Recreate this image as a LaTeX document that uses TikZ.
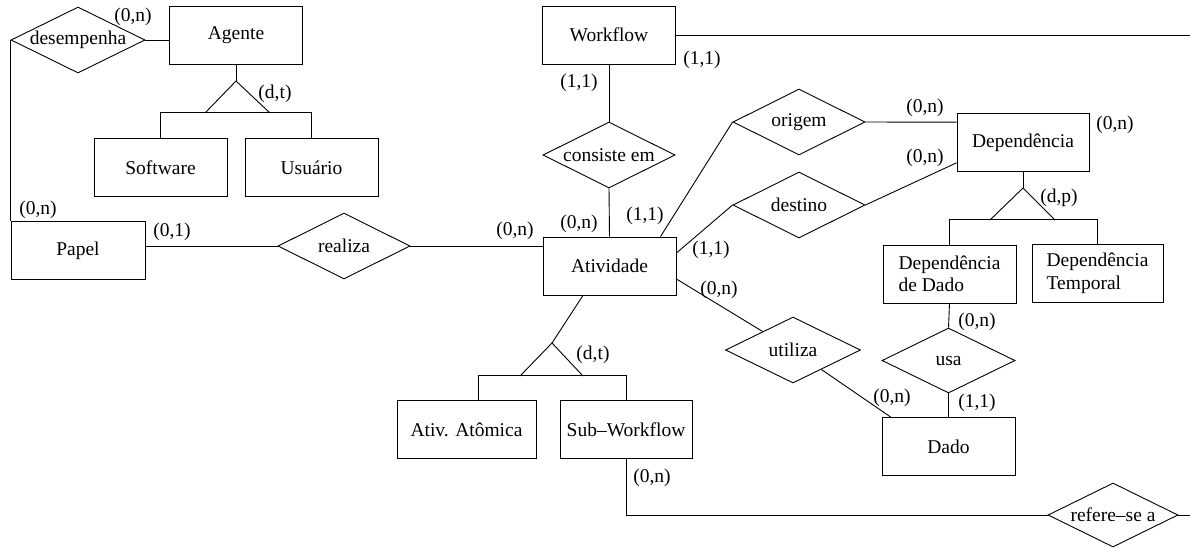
\documentclass[tikz,border=0pt]{standalone}
\usepackage{fontspec}
\setmainfont{Liberation Serif}
\usetikzlibrary{shapes.geometric}

\begin{document}
\begin{tikzpicture}[x=1pt, y=-1pt, line width=0.9pt,
  font=\fontsize{19.5}{22.5}\selectfont,
  entity/.style={draw, rectangle, minimum width=133pt, minimum height=58pt, inner sep=0pt},
  rel/.style={draw, diamond, aspect=2, minimum width=132pt, minimum height=66pt, inner sep=0pt},
  card/.style={inner sep=0pt}]

\useasboundingbox (0,0) rectangle (1190,547);

% entidades
\node[entity] (agente) at (236,35) {Agente};
\node[entity] (software) at (160.5,167.5) {Software};
\node[entity] (usuario) at (311.5,167.5) {Usuário};
\node[entity, minimum width=134pt] (papel) at (78,250.5) {Papel};
\node[entity] (workflow) at (609,35) {Workflow};
\node[entity] (atividade) at (609.5,266) {Atividade};
\node[entity, minimum width=139pt] (atomica) at (466.5,429.5) {Ativ. Atômica};
\node[entity, minimum width=132pt] (subwf) at (626,429.5) {Sub–Workflow};
\node[entity, minimum width=132pt] (dependencia) at (1023,142.5) {Dependência};
\node[entity, align=left] (depdado) at (949.5,274) {Dependência\\de Dado};
\node[entity, align=left, minimum width=131pt] (deptemp) at (1097.5,273.5) {Dependência\\Temporal};
\node[entity] (dado) at (948.5,446.5) {Dado};

% relacionamentos
\node[rel, minimum width=134pt] (desempenha) at (78,40) {desempenha};
\node[rel] (realiza) at (344,246) {realiza};
\node[rel] (consiste) at (609,155) {consiste em};
\node[rel] (origem) at (799,122) {origem};
\node[rel] (destino) at (799,205) {destino};
\node[rel, minimum width=135pt] (utiliza) at (793,350) {utiliza};
\node[rel, minimum width=133pt, minimum height=65pt] (usa) at (948.5,360.5) {usa};
\node[rel, minimum width=130pt, minimum height=64pt] (refere) at (1113,515) {refere–se a};

\coordinate (wfend) at (1190,35);
\coordinate (refend) at (1190,515);

% ligacoes
\draw (desempenha.east) -- (desempenha.east -| agente.west);
\draw (desempenha.west) -- (papel.north west);
\draw (realiza.west -| papel.east) -- (realiza.west);
\draw (realiza.east) -- (realiza.east -| atividade.west);
\draw (workflow.east) -- (wfend);
\draw (workflow.south) -- (consiste.north);
\draw (consiste.south) -- (atividade.north);
\draw (origem.west) -- (atividade.30);
\draw (origem.east) -- (dependencia.163);
\draw (destino.west) -- (atividade.11);
\draw (destino.east) -- (dependencia.197);
\draw (atividade.-11) -- (utiliza);
\draw (utiliza) -- (dado.153);
\draw (depdado.south) -- (usa.north);
\draw (usa.south) -- (dado.north);
\draw (subwf.south) |- (refere.west);
\draw (refere.east) -- (refend);

% especializacoes
\draw (agente.south) -- (236,81);
\draw (205,113) -- (236,81) -- (270,113);
\draw (software.north) -- ++(0,-26) -| (usuario.north);

\draw (atividade.-132) -- (552,343);
\draw (520,376) -- (552,343) -- (583,376);
\draw ([xshift=11.5pt]atomica.north) -- ++(0,-25) -| (subwf.north);

\draw (dependencia.south) -- (1023,188);
\draw (990,220) -- (1023,188) -- (1055,220);
\draw (depdado.north) -- ++(0,-25) -| (deptemp.north);

% cardinalidades
\node[card] (c1) at (133,17) {(0,n)};
\node[card] (c2) at (275,94) {(d,t)};
\node[card] (c3) at (38,210) {(0,n)};
\node[card] (c4) at (172,232) {(0,1)};
\node[card] (c5) at (515,231) {(0,n)};
\node[card] (c6) at (579,224) {(0,n)};
\node[card] (c7) at (645,216) {(1,1)};
\node[card] (c8) at (702,60) {(1,1)};
\node[card] (c9) at (579,83) {(1,1)};
\node[card] (c10) at (925,108) {(0,n)};
\node[card] (c11) at (1115,125) {(0,n)};
\node[card] (c12) at (925,158) {(0,n)};
\node[card] (c13) at (711,250) {(1,1)};
\node[card] (c14) at (719,290) {(0,n)};
\node[card] (c15) at (892,398) {(0,n)};
\node[card] (c16) at (977,403) {(1,1)};
\node[card] (c17) at (977,322) {(0,n)};
\node[card] (c18) at (1059,198) {(d,p)};
\node[card] (c19) at (593,355) {(d,t)};
\node[card] (c20) at (652,478) {(0,n)};
\end{tikzpicture}
\end{document}
